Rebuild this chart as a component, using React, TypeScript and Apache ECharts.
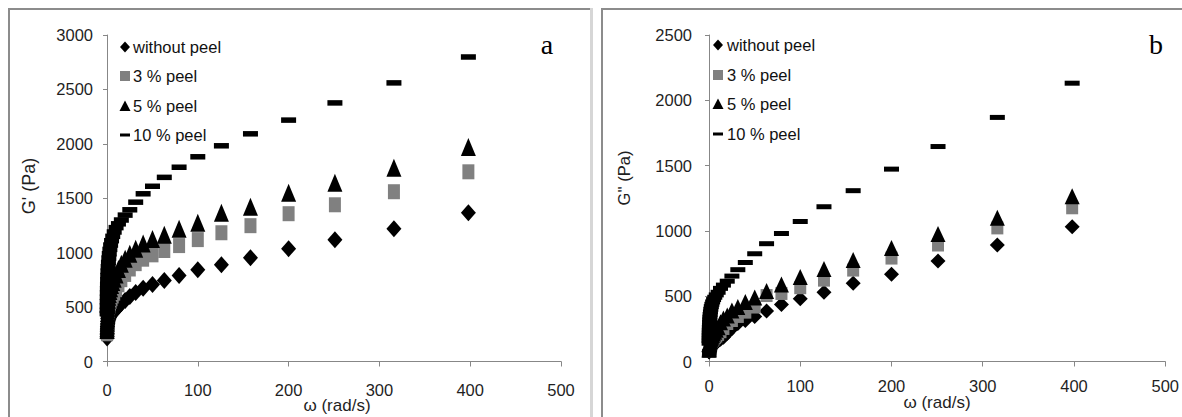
import React, { useEffect, useRef } from "react";
import * as echarts from "echarts";

const omega = [0.1, 0.126, 0.158, 0.2, 0.251, 0.316, 0.398, 0.501, 0.631, 0.794, 1, 1.26, 1.58, 2, 2.51, 3.16, 3.98, 5.01, 6.31, 7.94, 10, 12.6, 15.8, 20, 25.1, 31.6, 39.8, 50.1, 63.1, 79.4, 100, 126, 158, 200, 251, 316, 398];

const seriesNames = ["without peel", "3 % peel", "5 % peel", "10 % peel"];

// G' (Pa) – panel a
const gpWithout = [215, 230, 245, 258, 270, 283, 296, 310, 323, 337, 350, 362, 375, 388, 400, 412, 424, 436, 450, 462, 478, 505, 532, 560, 598, 635, 672, 708, 745, 790, 844, 890, 954, 1037, 1119, 1220, 1367];
const gp3 = [255, 272, 289, 305, 321, 338, 355, 372, 390, 408, 427, 446, 466, 487, 508, 530, 553, 577, 602, 628, 660, 705, 752, 800, 850, 899, 940, 980, 1020, 1065, 1120, 1183, 1248, 1358, 1440, 1560, 1743];
const gp5 = [290, 312, 334, 356, 378, 400, 423, 446, 470, 494, 518, 543, 568, 594, 620, 647, 674, 702, 730, 760, 800, 850, 899, 945, 991, 1037, 1085, 1125, 1165, 1220, 1275, 1367, 1422, 1550, 1642, 1780, 1972];
const gp10 = [440, 470, 510, 550, 590, 630, 670, 710, 750, 790, 830, 870, 910, 950, 990, 1030, 1070, 1110, 1150, 1190, 1230, 1265, 1300, 1345, 1394, 1464, 1541, 1610, 1692, 1785, 1881, 1982, 2092, 2218, 2376, 2560, 2798];

// G'' (Pa) – panel b
const gppWithout = [72, 74, 76, 78, 80, 82, 84, 86, 89, 92, 95, 98, 102, 106, 111, 117, 123, 130, 138, 147, 157, 170, 186, 217, 253, 291, 314, 345, 386, 437, 480, 531, 600, 669, 769, 892, 1031];
const gpp3 = [80, 83, 86, 89, 92, 96, 100, 104, 108, 113, 118, 124, 130, 137, 145, 153, 162, 172, 183, 195, 208, 228, 253, 291, 314, 345, 378, 417, 505, 521, 565, 623, 700, 792, 892, 1023, 1177];
const gpp5 = [90, 94, 98, 102, 107, 112, 117, 123, 129, 136, 143, 151, 159, 168, 178, 189, 201, 214, 228, 244, 262, 300, 330, 353, 391, 417, 455, 491, 540, 590, 647, 708, 777, 869, 977, 1100, 1265];
const gpp10 = [140, 160, 180, 200, 220, 240, 260, 280, 300, 320, 340, 360, 380, 400, 420, 438, 456, 474, 492, 510, 530, 560, 585, 615, 654, 703, 758, 825, 902, 980, 1072, 1185, 1308, 1473, 1646, 1869, 2131];

const xTicks = { min: 0, max: 500, interval: 100 };
const yTicksA = { min: 0, max: 3000, interval: 500 };
const yTicksB = { min: 0, max: 2500, interval: 500 };

const FONT = "'Liberation Sans', Arial, sans-serif";
const AXIS_COLOR = "#878787";
const TEXT_COLOR = "#1f1f1f";
const GREY = "#808080";

const symbolsA: any[] = [
  { symbol: "diamond", size: [15, 17], color: "#000" },
  { symbol: "rect", size: [12, 15], color: GREY },
  { symbol: "triangle", size: [15, 18], color: "#000" },
  { symbol: "rect", size: [15, 5.5], color: "#000" },
];
const symbolsB: any[] = [
  { symbol: "diamond", size: [15, 15], color: "#000" },
  { symbol: "rect", size: [12, 13], color: GREY },
  { symbol: "triangle", size: [15, 16], color: "#000" },
  { symbol: "rect", size: [15, 5], color: "#000" },
];

function buildSeries(values: number[][], idx: number, syms: any[]) {
  return values.map((vals, k) => ({
    type: "scatter",
    name: seriesNames[k],
    xAxisIndex: idx,
    yAxisIndex: idx,
    data: omega.map((w, i) => [w, vals[i]]),
    symbol: syms[k].symbol,
    symbolSize: syms[k].size,
    itemStyle: { color: syms[k].color, opacity: 1 },
    silent: true,
  }));
}

const plain = (v: number) => String(v);

function xAxis(grid: number, margin: number) {
  return {
    gridIndex: grid,
    type: "value",
    ...xTicks,
    axisLine: { show: true, lineStyle: { color: AXIS_COLOR, width: 1 } },
    axisTick: { show: true, length: 5, lineStyle: { color: AXIS_COLOR } },
    axisLabel: { margin, fontSize: 16.5, color: TEXT_COLOR, fontFamily: FONT, formatter: plain },
    splitLine: { show: false },
  };
}
function yAxis(grid: number, ticks: any, margin: number) {
  return {
    gridIndex: grid,
    type: "value",
    ...ticks,
    axisLine: { show: true, lineStyle: { color: AXIS_COLOR, width: 1 } },
    axisTick: { show: true, length: 4, lineStyle: { color: AXIS_COLOR } },
    axisLabel: { margin, fontSize: 16.5, color: TEXT_COLOR, fontFamily: FONT, formatter: plain },
    splitLine: { show: false },
  };
}

function legendGraphic(iconX: number, textX: number, ys: number[]) {
  const els: any[] = [];
  const [d, s, t, m] = ys;
  els.push({ type: "polygon", shape: { points: [[iconX, d - 5.5], [iconX + 5, d], [iconX, d + 5.5], [iconX - 5, d]] }, style: { fill: "#000" } });
  els.push({ type: "rect", shape: { x: iconX - 5, y: s - 5, width: 10, height: 10 }, style: { fill: GREY } });
  els.push({ type: "polygon", shape: { points: [[iconX, t - 5.5], [iconX + 5.5, t + 5], [iconX - 5.5, t + 5]] }, style: { fill: "#000" } });
  els.push({ type: "rect", shape: { x: iconX - 5, y: m - 1.5, width: 10, height: 3 }, style: { fill: "#000" } });
  ys.forEach((y, k) => {
    els.push({
      type: "text",
      x: textX,
      y,
      style: { text: seriesNames[k], fontSize: 16.5, fontFamily: FONT, fill: "#111", align: "left", verticalAlign: "middle" },
    });
  });
  return els;
}

const option: any = {
  animation: false,
  backgroundColor: "#fff",
  grid: [
    { left: 107, top: 35, width: 454, height: 326.5 },
    { left: 709, top: 35, width: 457, height: 326.5 },
  ],
  xAxis: [xAxis(0, 20), xAxis(1, 16)],
  yAxis: [yAxis(0, yTicksA, 14), yAxis(1, yTicksB, 17)],
  series: [
    ...buildSeries([gpWithout, gp3, gp5, gp10], 0, symbolsA),
    ...buildSeries([gppWithout, gpp3, gpp5, gpp10], 1, symbolsB),
  ],
  graphic: [
    // panel frames
    { type: "line", shape: { x1: 8, y1: 9, x2: 593, y2: 9 }, style: { stroke: "#8c8c8c", lineWidth: 2 } },
    { type: "line", shape: { x1: 9, y1: 8, x2: 9, y2: 417 }, style: { stroke: "#8c8c8c", lineWidth: 2 } },
    { type: "line", shape: { x1: 591.5, y1: 8, x2: 591.5, y2: 417 }, style: { stroke: "#d6d6d6", lineWidth: 3 } },
    { type: "line", shape: { x1: 601, y1: 9, x2: 1182, y2: 9 }, style: { stroke: "#8c8c8c", lineWidth: 2 } },
    { type: "line", shape: { x1: 602, y1: 8, x2: 602, y2: 417 }, style: { stroke: "#8c8c8c", lineWidth: 2 } },
    // panel letters
    { type: "text", x: 547, y: 44, style: { text: "a", fontSize: 28, fontFamily: "'Liberation Serif', serif", fill: "#000", align: "center", verticalAlign: "middle" } },
    { type: "text", x: 1156, y: 44, style: { text: "b", fontSize: 28, fontFamily: "'Liberation Serif', serif", fill: "#000", align: "center", verticalAlign: "middle" } },
    // axis titles
    { type: "text", x: 337, y: 405, style: { text: "ω (rad/s)", fontSize: 17, fontFamily: FONT, fill: TEXT_COLOR, align: "center", verticalAlign: "middle" } },
    { type: "text", x: 937, y: 402, style: { text: "ω (rad/s)", fontSize: 17, fontFamily: FONT, fill: TEXT_COLOR, align: "center", verticalAlign: "middle" } },
    { type: "text", x: 28.5, y: 186, rotation: Math.PI / 2, style: { text: "G' (Pa)", fontSize: 18, fontFamily: FONT, fill: TEXT_COLOR, align: "center", verticalAlign: "middle" } },
    { type: "text", x: 624, y: 178, rotation: Math.PI / 2, style: { text: "G'' (Pa)", fontSize: 16.5, fontFamily: FONT, fill: TEXT_COLOR, align: "center", verticalAlign: "middle" } },
    // legends
    ...legendGraphic(125, 133, [47, 76, 106, 135]),
    ...legendGraphic(718, 727, [45, 75, 104, 134]),
  ],
};

export default function App() {
  const ref = useRef<HTMLDivElement>(null);
  useEffect(() => {
    const chart = echarts.init(ref.current!, null, { renderer: "svg" });
    chart.setOption(option);
    return () => chart.dispose();
  }, []);
  return (
    <div
      ref={ref}
      style={{ position: "absolute", left: 0, top: 0, width: 1182, height: 417, background: "#fff" }}
    />
  );
}
